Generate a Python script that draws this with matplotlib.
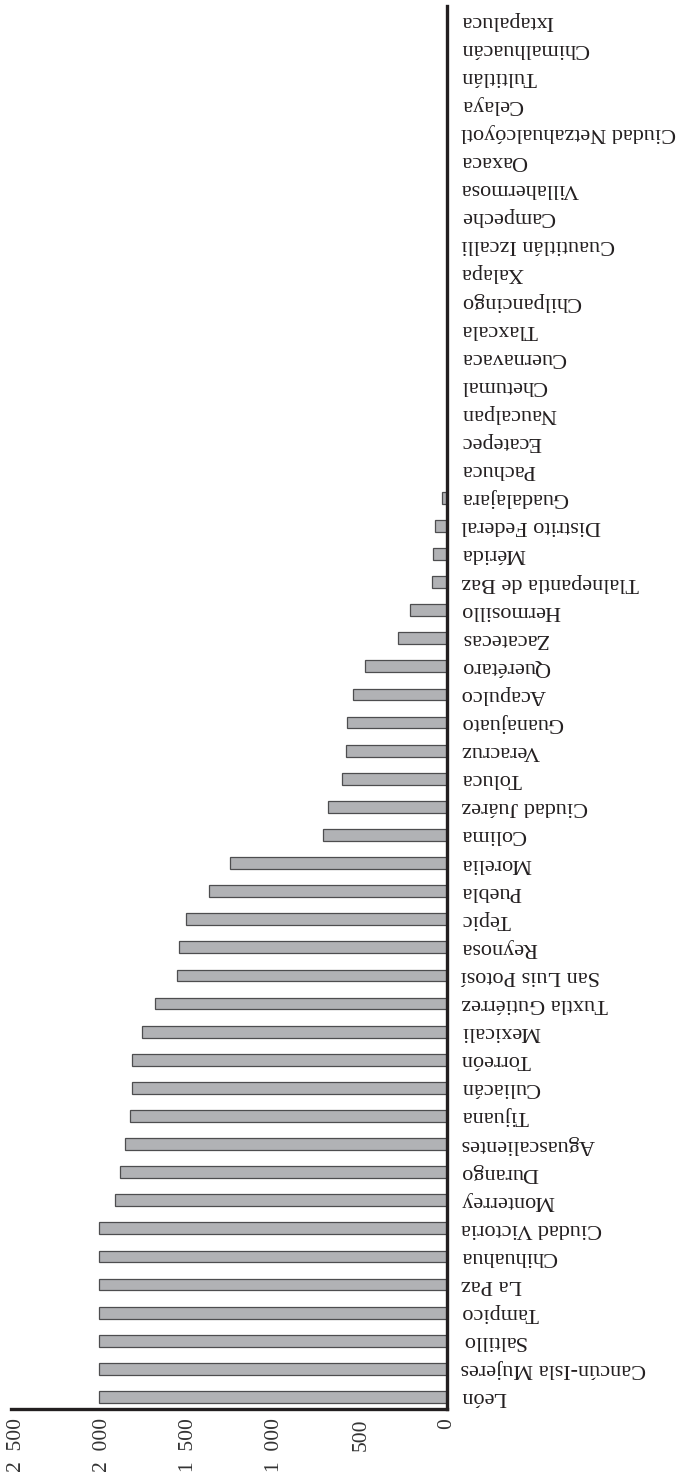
import matplotlib
matplotlib.use("Agg")
import matplotlib.pyplot as plt
from matplotlib.ticker import FuncFormatter

# cities from the bottom of the picture (León) to the top (Ixtapaluca)
cities = ["León", "Cancún-Isla Mujeres", "Saltillo", "Tampico", "La Paz",
          "Chihuahua", "Ciudad Victoria", "Monterrey", "Durango",
          "Aguascalientes", "Tijuana", "Culiacán", "Torreón", "Mexicali",
          "Tuxtla Gutiérrez", "San Luis Potosí", "Reynosa", "Tepic", "Puebla",
          "Morelia", "Colima", "Ciudad Juárez", "Toluca", "Veracruz",
          "Guanajuato", "Acapulco", "Querétaro", "Zacatecas", "Hermosillo",
          "Tlalnepantla de Baz", "Mérida", "Distrito Federal", "Guadalajara",
          "Pachuca", "Ecatepec", "Naucalpan", "Chetumal", "Cuernavaca",
          "Tlaxcala", "Chilpancingo", "Xalapa", "Cuautitlán Izcalli",
          "Campeche", "Villahermosa", "Oaxaca", "Ciudad Netzahualcóyotl",
          "Celaya", "Tultitlán", "Chimalhuacán", "Ixtapaluca"]
values = [2020, 2020, 2020, 2020, 2020, 2020, 2020, 1925, 1895,
          1870, 1840, 1825, 1825, 1770,
          1695, 1565, 1553, 1512, 1380,
          1260, 718, 690, 608, 586,
          580, 546, 478, 282, 212,
          88, 82, 69, 30,
          0, 0, 0, 0, 0,
          0, 0, 0, 0,
          0, 0, 0, 0,
          0, 0, 0, 0]
ticks = [0, 500, 1000, 1500, 2000, 2500]

plt.rcParams['font.family'] = ['Liberation Serif', 'DejaVu Serif']
ink = "#231f20"

fig = plt.figure(figsize=(6.82, 14.83), dpi=100)
ax = fig.add_axes([11 / 682, 74 / 1483, (447 - 11) / 682, (1409 - 6) / 1483])

ax.barh(range(len(cities)), values, height=0.42, color="#b1b2b5",
        edgecolor="#4d4d4f", linewidth=0.9, zorder=2)

ax.set_xlim(2530, 0)
ax.set_ylim(-0.43, len(cities) - 0.5)

ax.set_xticks(ticks)
ax.xaxis.set_major_formatter(FuncFormatter(
    lambda v, p: f"{int(v):,}".replace(",", "\u2002")))
ax.tick_params(axis="x", length=0, pad=6.5, labelsize=15.5,
               labelcolor="#333333")
for t in ax.get_xticklabels():
    t.set_rotation(90)
    t.set_va("top")
    t.set_ha("center")

ax.yaxis.tick_right()
ax.set_yticks(range(len(cities)))
ax.set_yticklabels(cities)
ax.tick_params(axis="y", length=0, pad=10, labelsize=16, labelcolor=ink)
for t in ax.get_yticklabels():
    t.set_rotation(180)
    t.set_va("center")
    t.set_ha("left")

for s in ["left", "top"]:
    ax.spines[s].set_visible(False)
for s in ["right", "bottom"]:
    ax.spines[s].set_linewidth(2.4)
    ax.spines[s].set_color(ink)
    ax.spines[s].set_zorder(3)

fig.savefig("out.png", dpi=100)
